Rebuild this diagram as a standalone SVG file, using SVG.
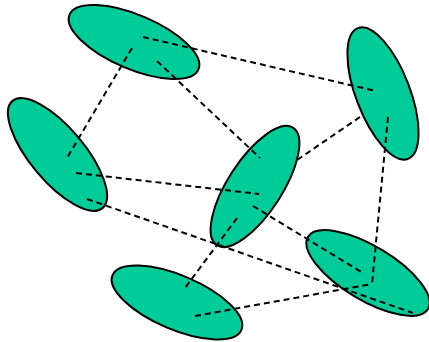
<svg xmlns="http://www.w3.org/2000/svg" width="429" height="342" viewBox="0 0 429 342">
<style>
.n{fill:#00cc99;stroke:#000;stroke-width:2}
.e{stroke:#000;stroke-width:2;stroke-dasharray:6,4;fill:none}
</style>
<rect width="429" height="342" fill="#fff"/>
<g id="n-top"><ellipse class="n" cx="134" cy="42" rx="70" ry="27" transform="rotate(23 134 42)"/></g>
<g id="n-left"><ellipse class="n" cx="57.5" cy="154.5" rx="70" ry="27" transform="rotate(50 57.5 154.5)"/></g>
<g id="n-mid"><ellipse class="n" cx="255" cy="186.5" rx="70" ry="27" transform="rotate(-57 255 186.5)"/></g>
<g id="n-right"><ellipse class="n" cx="383" cy="93.5" rx="70" ry="27" transform="rotate(69 383 93.5)"/></g>
<g id="n-br"><ellipse class="n" cx="368" cy="273" rx="70" ry="27" transform="rotate(31 368 273)"/></g>
<g id="n-bottom"><ellipse class="n" cx="177" cy="302.5" rx="70" ry="27" transform="rotate(23 177 302.5)"/></g>
<g id="edges">
<line class="e" x1="143" y1="37" x2="376" y2="91"/>
<line class="e" x1="132" y1="48" x2="67" y2="158"/>
<line class="e" x1="157" y1="61" x2="260" y2="158"/>
<line class="e" x1="360" y1="117" x2="297" y2="160"/>
<line class="e" x1="388" y1="117" x2="372" y2="284"/>
<line class="e" x1="76" y1="173" x2="259" y2="194"/>
<line class="e" x1="87" y1="199" x2="413" y2="313"/>
<line class="e" x1="253" y1="206" x2="363" y2="273"/>
<line class="e" x1="237" y1="218" x2="185" y2="288"/>
<line class="e" x1="195" y1="316" x2="372" y2="284"/>
</g>
</svg>
